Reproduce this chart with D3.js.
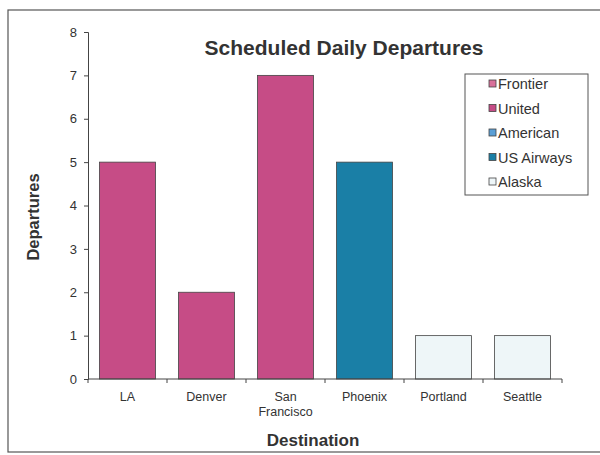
<!DOCTYPE html>
<html>
  <head>
    <title>Scheduled Daily Departures</title>
    <script src="https://cdn.jsdelivr.net/npm/d3@7/dist/d3.min.js"></script>
    <style>
      body { margin: 0; background: #fff; }
      text { font-family: "Liberation Sans", Arial, sans-serif; fill: #333; }
    </style>
  </head>
  <body>
    <svg id="svg" width="600" height="455" xmlns="http://www.w3.org/2000/svg"></svg>
    <script>
      // Data
      let destinations = ["LA", "Denver", "San Francisco", "Phoenix", "Portland", "Seattle"];
      let departures = [5, 2, 7, 5, 1, 1];
      let carriers = ["United", "United", "United", "US Airways", "Alaska", "Alaska"];
      let airlines = ["Frontier", "United", "American", "US Airways", "Alaska"];
      let airlineColors = ["#d9709a", "#c64c86", "#5b9fd6", "#1a7fa6", "#eef6f8"];
      let yTicks = [0, 1, 2, 3, 4, 5, 6, 7, 8];

      let svg = d3.select("svg");
      let color = d3.scaleOrdinal().domain(airlines).range(airlineColors);

      // chart border (right side runs off the picture)
      svg.append("rect")
        .attr("x", 8).attr("y", 10)
        .attr("width", 620).attr("height", 442)
        .attr("fill", "none").attr("stroke", "#555").attr("stroke-width", 1.2);

      let x = d3.scaleBand().domain(destinations).range([88, 562]).paddingInner(0.29).paddingOuter(0.145);
      let y = d3.scaleLinear().domain([0, 8]).range([379, 32]);

      // Bars
      svg.selectAll(".bar")
        .data(destinations)
        .enter()
        .append("rect")
        .attr("class", "bar")
        .attr("x", (d) => x(d))
        .attr("y", (d, i) => y(departures[i]))
        .attr("width", x.bandwidth())
        .attr("height", (d, i) => y(0) - y(departures[i]))
        .attr("fill", (d, i) => color(carriers[i]))
        .attr("stroke", "#444")
        .attr("stroke-width", 0.8);

      // Y axis
      let yAxis = svg.append("g")
        .attr("transform", "translate(88,0)")
        .call(d3.axisLeft(y).tickValues(yTicks).tickSize(4).tickPadding(7));
      yAxis.select(".domain").attr("stroke", "#444");
      yAxis.selectAll(".tick line").attr("stroke", "#444");
      yAxis.selectAll(".tick text").attr("font-size", 13).style("fill", "#333");

      // X axis line with ticks between categories
      let xAxis = svg.append("g");
      xAxis.append("line")
        .attr("x1", 88).attr("x2", 562)
        .attr("y1", y(0)).attr("y2", y(0))
        .attr("stroke", "#444");
      let step = x.step();
      xAxis.selectAll(".xtick")
        .data(d3.range(destinations.length + 1))
        .enter()
        .append("line")
        .attr("class", "xtick")
        .attr("x1", (d) => 88 + d * step)
        .attr("x2", (d) => 88 + d * step)
        .attr("y1", y(0)).attr("y2", y(0) + 4)
        .attr("stroke", "#444");

      // category labels, wrapping "San Francisco"
      xAxis.selectAll(".xlabel")
        .data(destinations)
        .enter()
        .append("text")
        .attr("class", "xlabel")
        .attr("text-anchor", "middle")
        .attr("font-size", 12.5)
        .attr("y", 401)
        .each(function (d) {
          let words = d.split(" ");
          let t = d3.select(this);
          words.forEach((w, i) => {
            t.append("tspan")
              .attr("x", x(d) + x.bandwidth() / 2)
              .attr("dy", i == 0 ? 0 : 15)
              .text(w);
          });
        });

      // Titles
      svg.append("text")
        .attr("x", 344).attr("y", 55)
        .attr("text-anchor", "middle")
        .attr("font-size", 21).attr("font-weight", "bold")
        .text("Scheduled Daily Departures");

      svg.append("text")
        .attr("x", 313).attr("y", 446)
        .attr("text-anchor", "middle")
        .attr("font-size", 17).attr("font-weight", "bold")
        .text("Destination");

      svg.append("text")
        .attr("transform", "translate(39,217) rotate(-90)")
        .attr("text-anchor", "middle")
        .attr("font-size", 16.5).attr("font-weight", "bold")
        .text("Departures");

      // Legend
      let legend = svg.append("g");
      legend.append("rect")
        .attr("x", 465).attr("y", 74)
        .attr("width", 123).attr("height", 121)
        .attr("fill", "#fff").attr("stroke", "#555");
      let items = legend.selectAll(".item")
        .data(airlines)
        .enter()
        .append("g")
        .attr("class", "item")
        .attr("transform", (d, i) => "translate(489," + (84 + i * 24.5) + ")");
      items.append("rect")
        .attr("x", 0).attr("y", -4)
        .attr("width", 7).attr("height", 7)
        .attr("fill", (d) => color(d))
        .attr("stroke", "#444").attr("stroke-width", 0.8);
      items.append("text")
        .attr("x", 9).attr("y", 5)
        .attr("font-size", 14.5)
        .text((d) => d);
    </script>
  </body>
</html>
